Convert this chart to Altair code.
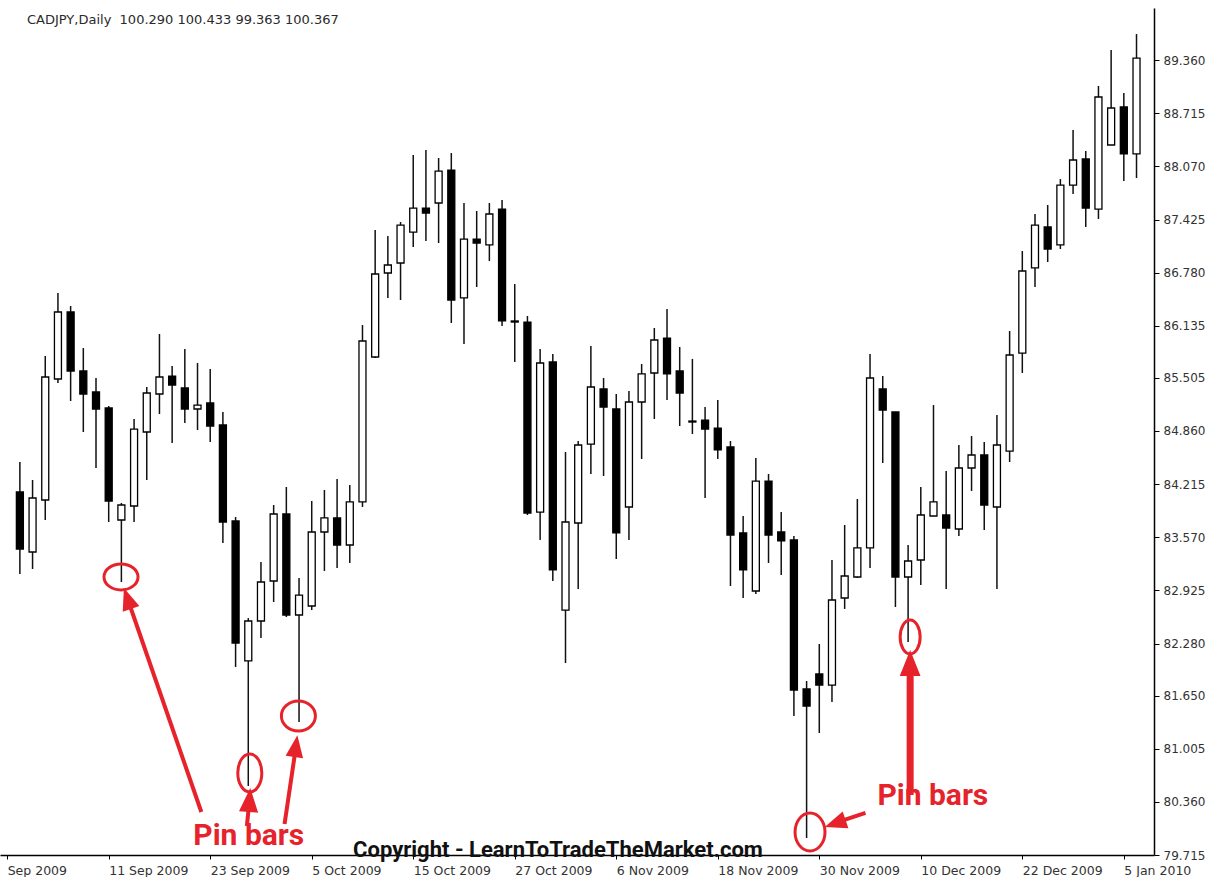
import altair as alt
import pandas as pd

# ---- data: CADJPY daily candles, 2 Sep 2009 .. 6 Jan 2010 (bar index 0..88) ----
opens = [84.119, 83.391, 84.022, 85.490, 86.303, 85.587, 85.332, 85.138, 83.779, 83.949,
         84.847, 85.308, 85.526, 85.381, 85.126, 85.199, 84.932, 83.767, 82.069, 82.554,
         83.039, 83.852, 82.627, 82.736, 83.634, 83.804, 83.476, 83.998, 85.757, 86.776,
         86.897, 87.273, 87.564, 87.625, 88.025, 86.473, 87.188, 87.116, 87.552, 86.194,
         86.181, 83.876, 85.696, 82.687, 83.743, 84.701, 85.369, 85.126, 83.937, 85.211,
         85.563, 85.987, 85.587, 84.980, 84.992, 84.895, 84.665, 83.622, 82.918, 84.252,
         83.634, 83.537, 81.729, 81.911, 81.777, 82.833, 83.088, 83.440, 85.369, 85.090,
         83.088, 83.294, 83.828, 83.840, 83.670, 84.410, 84.568, 83.937, 84.616, 85.805,
         86.837, 87.334, 87.116, 87.843, 88.159, 87.552, 88.329, 88.790, 88.220]
highs = [84.483, 84.265, 85.769, 86.533, 86.376, 85.866, 85.502, 85.162, 83.986, 85.005,
         85.393, 86.036, 85.648, 85.854, 85.684, 85.611, 85.090, 83.816, 82.590, 83.270,
         83.961, 84.180, 83.076, 84.010, 84.143, 84.277, 84.204, 86.145, 87.298, 87.225,
         87.395, 88.207, 88.268, 88.171, 88.232, 87.625, 87.528, 87.625, 87.662, 86.642,
         86.254, 85.854, 85.793, 84.604, 84.738, 85.890, 85.502, 85.308, 85.344, 85.672,
         86.109, 86.339, 85.878, 85.733, 85.150, 85.235, 84.738, 83.828, 84.531, 84.337,
         83.876, 83.585, 81.826, 82.275, 83.294, 83.719, 84.034, 85.793, 85.526, 85.090,
         83.476, 84.180, 85.174, 84.374, 84.689, 84.798, 84.726, 85.053, 86.072, 87.043,
         87.492, 87.601, 87.916, 88.511, 88.256, 89.045, 89.481, 88.960, 89.675]
lows = [83.124, 83.185, 83.779, 85.441, 85.223, 84.847, 84.410, 83.755, 83.027, 83.755,
        84.265, 85.065, 84.713, 84.956, 84.871, 84.726, 83.500, 81.996, 80.552, 82.348,
        82.784, 82.602, 81.329, 82.687, 83.161, 83.197, 83.258, 83.937, 85.745, 86.473,
        86.448, 87.091, 87.164, 87.140, 86.169, 85.915, 86.606, 86.921, 86.133, 85.696,
        83.840, 83.537, 83.039, 82.044, 82.942, 84.337, 84.313, 83.306, 83.537, 84.519,
        85.005, 85.235, 84.920, 84.823, 84.046, 84.519, 82.979, 82.833, 82.882, 83.258,
        83.112, 81.401, 79.921, 81.195, 81.571, 82.700, 83.076, 83.197, 84.471, 82.724,
        82.299, 82.991, 83.828, 82.942, 83.585, 84.131, 83.658, 82.942, 84.483, 85.563,
        86.606, 86.909, 87.067, 87.734, 87.334, 87.431, 88.329, 87.892, 87.928]
closes = [83.427, 84.046, 85.514, 86.303, 85.587, 85.308, 85.126, 84.010, 83.961, 84.883,
          85.320, 85.514, 85.417, 85.126, 85.174, 84.920, 83.755, 82.287, 82.554, 83.027,
          83.852, 82.627, 82.869, 83.634, 83.804, 83.476, 83.998, 85.951, 86.764, 86.873,
          87.358, 87.564, 87.504, 88.013, 86.448, 87.188, 87.140, 87.492, 86.194, 86.181,
          83.864, 85.684, 83.173, 83.755, 84.689, 85.393, 85.150, 83.622, 85.211, 85.551,
          85.963, 85.551, 85.320, 84.968, 84.883, 84.629, 83.597, 83.173, 84.252, 83.597,
          83.525, 81.717, 81.523, 81.777, 82.809, 83.100, 83.440, 85.502, 85.114, 83.088,
          83.282, 83.840, 83.998, 83.682, 84.410, 84.568, 83.961, 84.689, 85.781, 86.800,
          87.358, 87.067, 87.843, 88.147, 87.564, 88.911, 88.778, 88.220, 89.384]

x_tick_index = [-1, 7, 15, 23, 31, 39, 47, 55, 63, 71, 79, 87]
x_tick_text = ["Sep 2009", "11 Sep 2009", "23 Sep 2009", "5 Oct 2009", "15 Oct 2009",
               "27 Oct 2009", "6 Nov 2009", "18 Nov 2009", "30 Nov 2009", "10 Dec 2009",
               "22 Dec 2009", "5 Jan 2010"]
y_ticks = [89.360, 88.715, 88.070, 87.425, 86.780, 86.135, 85.505, 84.860, 84.215,
           83.570, 82.925, 82.280, 81.650, 81.005, 80.360, 79.715]

header_text = "CADJPY,Daily\u00a0\u00a0100.290 100.433 99.363 100.367"
copyright_text = "Copyright - LearnToTradeTheMarket.com"
pin_label = "Pin bars"

# ---- tables ----
n = len(opens)
df = pd.DataFrame({"i": list(range(n)), "open": opens, "high": highs,
                   "low": lows, "close": closes})
df["dir"] = ["up" if c >= o else "down" for o, c in zip(opens, closes)]

RED = "#e6222b"
AX_FONT = "DejaVu Sans"

# annotation placement (bar index, price)
ell = pd.DataFrame({
    "i":     [7.97, 18.12, 21.95, 62.27, 70.16],
    "p":     [83.088, 80.710, 81.401, 79.994, 82.360],
    "w":     [34, 24, 34, 30, 20],
    "h":     [26, 38, 30, 38, 34],
})
def ell_path(w, h):
    m = max(w, h)
    rx, ry = w / m, h / m
    return (f"M {-rx:.3f} 0 A {rx:.3f} {ry:.3f} 0 1 0 {rx:.3f} 0 "
            f"A {rx:.3f} {ry:.3f} 0 1 0 {-rx:.3f} 0 Z")
ell["shape"] = [ell_path(w, h) for w, h in zip(ell.w, ell.h)]
ell["size"] = [max(w, h) ** 2 for w, h in zip(ell.w, ell.h)]

shafts = pd.DataFrame({
    "i":  [14.30, 17.89, 20.86, 66.64, 70.16],
    "p":  [80.237, 80.067, 80.091, 80.225, 80.443],
    "i2": [8.52, 18.05, 21.72, 64.45, 70.16],
    "p2": [82.809, 80.310, 80.989, 80.115, 81.935],
    "sw": [4, 4, 4, 4, 7],
})
heads = pd.DataFrame({
    "i":     [8.48, 18.09, 21.75, 64.25, 70.16],
    "p":     [82.828, 80.382, 81.037, 80.098, 82.044],
    "angle": [341, 4, 8, 251, 0],
    "size":  [484, 576, 484, 484, 676],
})
texts = pd.DataFrame({"i": [13.67, 67.58], "p": [79.946, 80.431],
                      "t": [pin_label, pin_label]})

# ---- scales/axes ----
x_scale = alt.Scale(domain=[-1.172, 88.984], nice=False, zero=False)
y_scale = alt.Scale(domain=[79.715, 89.991], nice=False, zero=False)

label_expr = ("[" + ",".join(f"'{t}'" for t in x_tick_text) + "][indexof(["
              + ",".join(str(v) for v in x_tick_index) + "], datum.value)]")

x_axis = alt.Axis(values=x_tick_index, labelExpr=label_expr, title=None, grid=False,
                  labelAlign="left", labelBaseline="top", labelFlush=False,
                  labelOverlap=False, labelPadding=5, tickSize=4, tickColor="black",
                  domainColor="black", domainWidth=1.5, labelFont=AX_FONT,
                  labelFontSize=12.5, labelColor="#333333")
y_axis = alt.Axis(orient="right", values=y_ticks, format=".3f", title=None, grid=False,
                  labelFlush=False, labelOverlap=False, labelPadding=4, tickSize=5,
                  tickColor="black", domainColor="black", domainWidth=1.5,
                  labelFont=AX_FONT, labelFontSize=12, labelColor="#333333")

base = alt.Chart(df)

wicks = base.mark_rule(color="#111111", strokeWidth=1.5).encode(
    x=alt.X("i:Q", scale=x_scale, axis=x_axis),
    y=alt.Y("low:Q", scale=y_scale, axis=y_axis),
    y2=alt.Y2("high:Q"),
)

bodies = base.mark_bar(size=7, stroke="black", strokeWidth=1.3).encode(
    x=alt.X("i:Q", scale=x_scale),
    y=alt.Y("open:Q", scale=y_scale),
    y2=alt.Y2("close:Q"),
    fill=alt.Fill("dir:N", scale=alt.Scale(domain=["up", "down"], range=["white", "black"]),
                  legend=None),
)

ellipses = alt.Chart(ell).mark_point(filled=False, strokeWidth=3, color=RED, opacity=1).encode(
    x=alt.X("i:Q", scale=x_scale),
    y=alt.Y("p:Q", scale=y_scale),
    shape=alt.Shape("shape:N", scale=None),
    size=alt.Size("size:Q", scale=None),
)

arrow_lines = alt.Chart(shafts).mark_rule(color=RED, strokeCap="butt").encode(
    x=alt.X("i:Q", scale=x_scale),
    y=alt.Y("p:Q", scale=y_scale),
    x2="i2:Q",
    y2="p2:Q",
    strokeWidth=alt.StrokeWidth("sw:Q", scale=None),
)

arrow_heads = alt.Chart(heads).mark_point(
    filled=True, color=RED, opacity=1, shape="M 0 -1 L 0.8 1 L -0.8 1 Z"
).encode(
    x=alt.X("i:Q", scale=x_scale),
    y=alt.Y("p:Q", scale=y_scale),
    angle=alt.Angle("angle:Q", scale=None),
    size=alt.Size("size:Q", scale=None),
)

pin_texts = alt.Chart(texts).mark_text(
    align="left", baseline="middle", font="Roboto", fontWeight="bold",
    fontSize=30, color=RED
).encode(
    x=alt.X("i:Q", scale=x_scale),
    y=alt.Y("p:Q", scale=y_scale),
    text="t:N",
)

header = alt.Chart(pd.DataFrame({"t": [header_text]})).mark_text(
    align="left", baseline="middle", font=AX_FONT, fontSize=13, color="#2a2a2a"
).encode(x=alt.value(27), y=alt.value(12), text="t:N")

copyright_mark = alt.Chart(pd.DataFrame({"t": [copyright_text]})).mark_text(
    align="center", baseline="alphabetic", font="Roboto", fontWeight="bold",
    fontSize=22, color="#111111"
).encode(x=alt.value(558), y=alt.value(849), text="t:N")

chart = alt.layer(
    wicks, bodies, ellipses, arrow_lines, arrow_heads, pin_texts, header, copyright_mark
).properties(
    width=1154, height=847,
    padding={"left": 0, "top": 8, "right": 0, "bottom": 0},
    background="white",
).configure_view(strokeWidth=0)

chart.save("out.html", embed_options={"renderer": "svg", "actions": False})
